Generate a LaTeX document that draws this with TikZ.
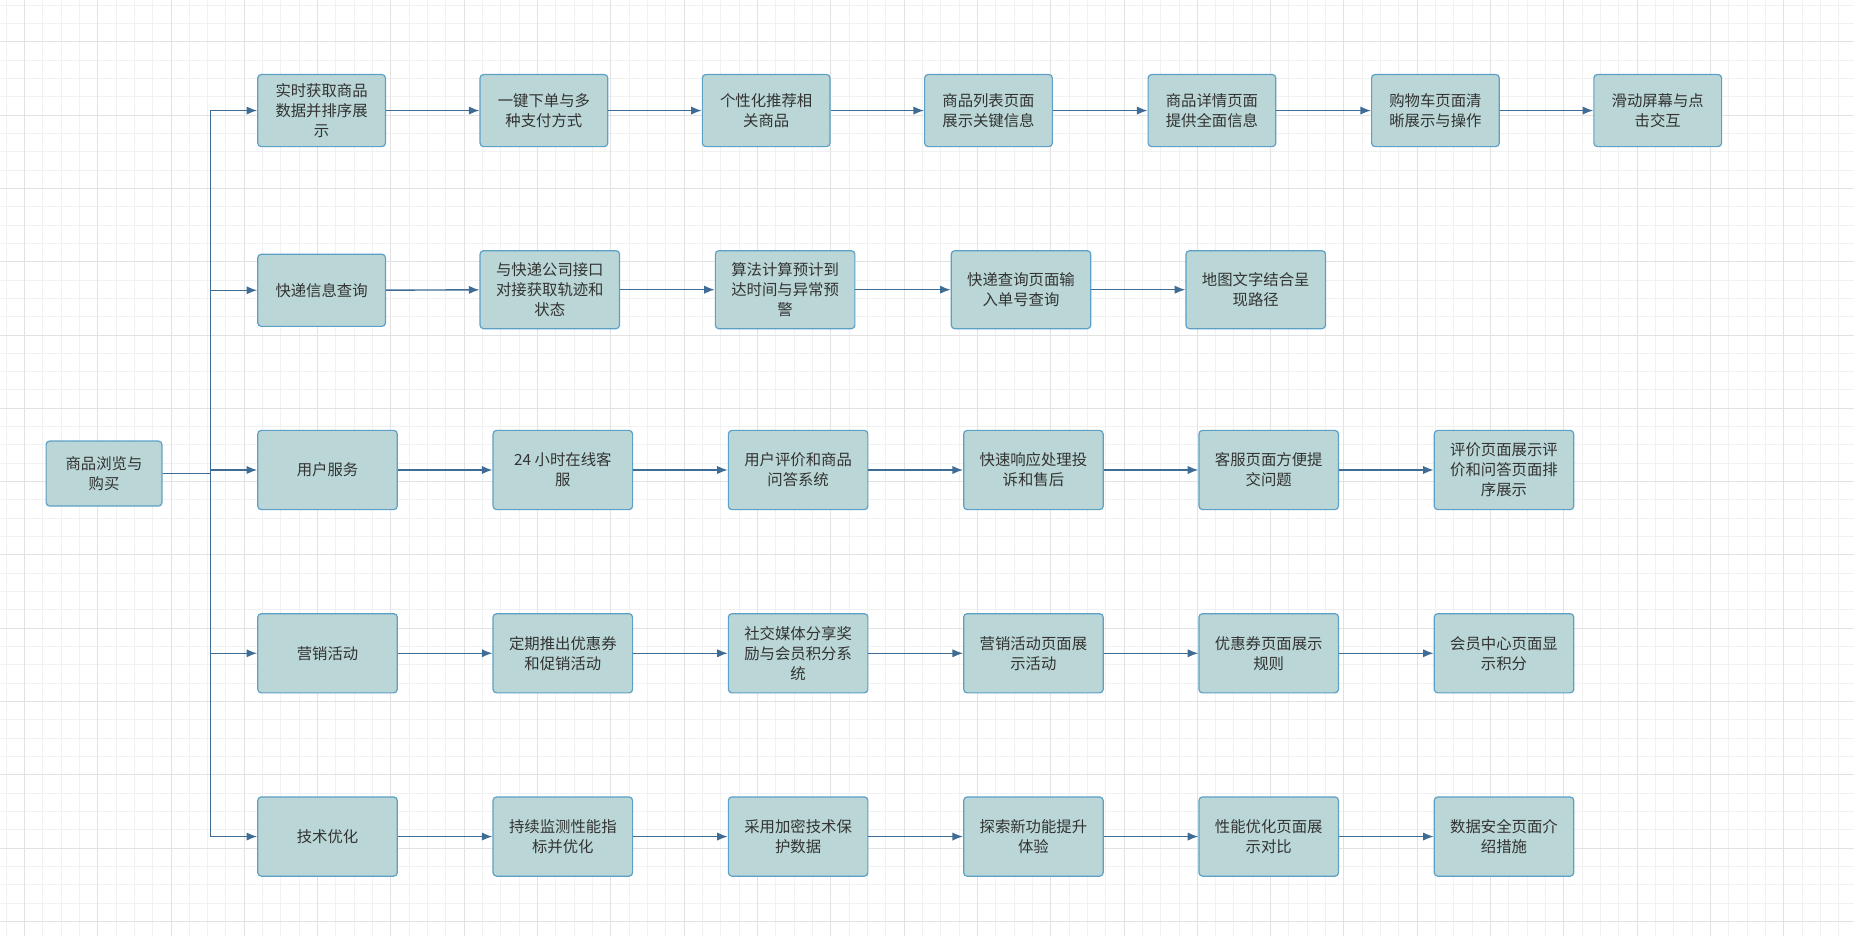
\documentclass[tikz,border=0pt]{standalone}
\usepackage{fontspec}
\setmainfont{Noto Sans CJK SC}
\usetikzlibrary{arrows.meta}
\definecolor{boxfill}{RGB}{186,214,214}
\definecolor{boxline}{RGB}{92,160,198}
\definecolor{arrline}{RGB}{62,108,148}
\definecolor{gridminor}{RGB}{241,241,241}
\definecolor{gridmajor}{RGB}{226,226,226}
\tikzset{bx/.append style={draw=boxline, fill=boxfill, rounded corners=3pt, line width=1pt, text=black!80, align=center, font=\fontsize{13}{17}\selectfont, inner sep=0pt}}
\tikzset{ar/.append style={draw=arrline, line width=1.2pt, -{Latex[length=9pt,width=7pt]}}}
\tikzset{wa/.style={bx, minimum width=108pt, minimum height=61pt}}
\tikzset{wb/.style={bx, minimum width=118pt, minimum height=67pt}}

\begin{document}
\begin{tikzpicture}[x=1pt,y=-1pt]
            \useasboundingbox (0,0) rectangle (1568,792);
            % grid
            \foreach \i in {0,...,101} \draw[gridminor, line width=0.8pt] ({5.1+15.5*\i},0) -- ++(0,792);
            \foreach \i in {0,...,51} \draw[gridminor, line width=0.8pt] (0,{4.3+15.5*\i}) -- ++(1568,0);
            \foreach \i in {0,...,25} \draw[gridmajor, line width=0.8pt] ({20.6+62*\i},0) -- ++(0,792);
            \foreach \i in {0,...,12} \draw[gridmajor, line width=0.8pt] (0,{35.3+62*\i}) -- ++(1568,0);
            % root
            \node[bx, minimum width=98pt, minimum height=55pt] (r) at (88,400.5) {商品浏览与\\购买};
            % row 1
            \node[wa] (a1) at (272,93.5) {实时获取商品\\数据并排序展\\示};
            \node[wa] (a2) at (460,93.5) {一键下单与多\\种支付方式};
            \node[wa] (a3) at (648,93.5) {个性化推荐相\\关商品};
            \node[wa] (a4) at (836,93.5) {商品列表页面\\展示关键信息};
            \node[wa] (a5) at (1025,93.5) {商品详情页面\\提供全面信息};
            \node[wa] (a6) at (1214,93.5) {购物车页面清\\晰展示与操作};
            \node[wa] (a7) at (1402,93.5) {滑动屏幕与点\\击交互};
            % row 2
            \node[wa] (b1) at (272,245.5) {快递信息查询};
            \node[wb, minimum height=66pt] (b2) at (465,245) {与快递公司接口\\对接获取轨迹和\\状态};
            \node[wb, minimum height=66pt] (b3) at (664,245) {算法计算预计到\\达时间与异常预\\警};
            \node[wb, minimum height=66pt] (b4) at (863.5,245) {快递查询页面输\\入单号查询};
            \node[wb, minimum height=66pt] (b5) at (1062,245) {地图文字结合呈\\现路径};
            % row 3
            \node[wb] (c1) at (277,397.5) {用户服务};
            \node[wb] (c2) at (476,397.5) {24 小时在线客\\服};
            \node[wb] (c3) at (675,397.5) {用户评价和商品\\问答系统};
            \node[wb] (c4) at (874,397.5) {快速响应处理投\\诉和售后};
            \node[wb] (c5) at (1073,397.5) {客服页面方便提\\交问题};
            \node[wb] (c6) at (1272,397.5) {评价页面展示评\\价和问答页面排\\序展示};
            % row 4
            \node[wb] (d1) at (277,552.5) {营销活动};
            \node[wb] (d2) at (476,552.5) {定期推出优惠券\\和促销活动};
            \node[wb] (d3) at (675,552.5) {社交媒体分享奖\\励与会员积分系\\统};
            \node[wb] (d4) at (874,552.5) {营销活动页面展\\示活动};
            \node[wb] (d5) at (1073,552.5) {优惠券页面展示\\规则};
            \node[wb] (d6) at (1272,552.5) {会员中心页面显\\示积分};
            % row 5
            \node[wb] (e1) at (277,707.5) {技术优化};
            \node[wb] (e2) at (476,707.5) {持续监测性能指\\标并优化};
            \node[wb] (e3) at (675,707.5) {采用加密技术保\\护数据};
            \node[wb] (e4) at (874,707.5) {探索新功能提升\\体验};
            \node[wb] (e5) at (1073,707.5) {性能优化页面展\\示对比};
            \node[wb] (e6) at (1272,707.5) {数据安全页面介\\绍措施};
            % trunk
            \foreach \n in {a1,b1,c1,d1,e1}
                \draw[ar] (r.east) -- ++(40.6,0) |- (\n.west);
            % chains
            \foreach \p/\q in {a1/a2,a2/a3,a3/a4,a4/a5,a5/a6,a6/a7,b1/b2,b2/b3,b3/b4,b4/b5}
                \draw[ar] (\p) -- (\q);
            \foreach \p/\q in {c1/c2,c2/c3,c3/c4,c4/c5,c5/c6,d1/d2,d2/d3,d3/d4,d4/d5,d5/d6,e1/e2,e2/e3,e3/e4,e4/e5,e5/e6}
                \draw[ar] (\p) -- (\q);
        \end{tikzpicture}
\end{document}
